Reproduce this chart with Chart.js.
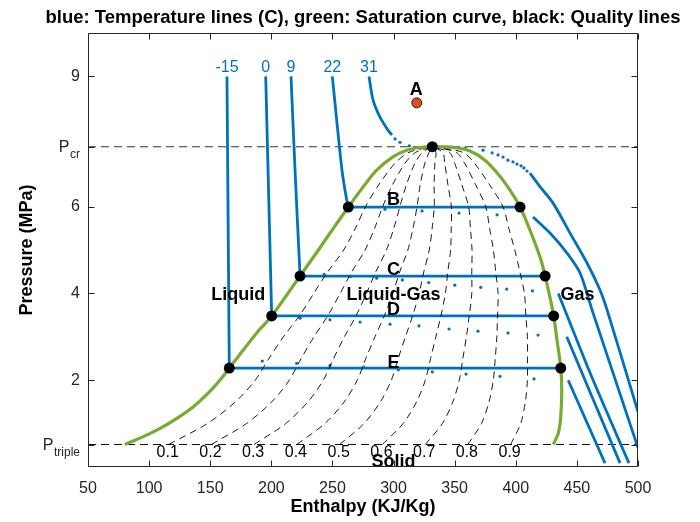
<!DOCTYPE html>
<html>
<head>
<meta charset="utf-8">
<title>CO2 P-h diagram</title>
<script src="https://cdn.jsdelivr.net/npm/chart.js@4.4.1/dist/chart.umd.min.js"></script>
<style>
  html, body { margin: 0; padding: 0; background: #fff; }
  #wrap { width: 700px; height: 522px; }
</style>
</head>
<body>
<div id="wrap"><canvas id="phChart" width="700" height="522"></canvas></div>
<script>
"use strict";

// ---- data (h in kJ/kg, P in MPa) ----
var P_CR = 7.38, P_TRIPLE = 0.518;

// saturation curve: liquid side up to the critical point, then vapour side down
var satH = [80.3, 95.2, 109.0, 122.7, 136.2, 148.3, 159.1, 165.6, 177.2, 189.0, 200.3, 223.5, 236.5, 247.8, 263.0, 275.3, 286.2, 299.8, 310.8, 321.6, 331.7,
            350.3, 362.5, 374.8, 385.5, 395.3, 403.5, 410.0, 415.7, 420.6, 424.0, 427.2, 431.0, 433.7, 436.8, 437.6, 436.8, 434.8, 430.7];
var satP = [0.52, 0.70, 0.89, 1.12, 1.39, 1.70, 2.04, 2.28, 2.70, 3.12, 3.48, 4.40, 4.92, 5.38, 5.99, 6.46, 6.84, 7.15, 7.30, 7.36, 7.38,
            7.36, 7.28, 7.07, 6.75, 6.38, 5.99, 5.57, 5.16, 4.77, 4.40, 4.01, 3.48, 2.93, 2.28, 1.77, 1.16, 0.78, 0.52];

// quality lines, enthalpy at each pressure level
var qualP = [0.52, 1.0, 1.5, 2.0, 2.5, 3.0, 3.5, 4.0, 4.5, 5.0, 5.5, 6.0, 6.5, 7.0, 7.25, 7.38];
var qualLabels = ['0.1', '0.2', '0.3', '0.4', '0.5', '0.6', '0.7', '0.8', '0.9'];
var q1 = [116.0, 147.6, 170.6, 186.8, 198.0, 209.9, 223.4, 234.7, 246.2, 259.2, 268.8, 277.1, 287.8, 301.3, 312.6, 331.7];
var q2 = [151.0, 179.6, 200.3, 214.7, 224.4, 234.9, 246.5, 256.3, 265.9, 276.7, 284.5, 291.1, 299.1, 309.4, 318.1, 331.7];
var q3 = [185.9, 211.7, 229.9, 242.5, 250.9, 259.8, 269.6, 277.8, 285.5, 294.2, 300.2, 305.2, 310.5, 317.5, 323.6, 331.7];
var q4 = [220.9, 243.7, 259.6, 270.3, 277.3, 284.8, 292.7, 299.4, 305.1, 311.7, 315.9, 319.2, 321.8, 325.6, 329.1, 331.7];
var q5 = [255.9, 275.8, 289.2, 298.2, 303.8, 309.7, 315.8, 320.9, 324.8, 329.2, 331.6, 333.3, 333.2, 333.8, 334.7, 331.7];
var q6 = [290.9, 307.8, 318.8, 326.0, 330.3, 334.6, 338.9, 342.4, 344.4, 346.7, 347.2, 347.3, 344.5, 341.9, 340.2, 331.7];
var q7 = [325.9, 339.9, 348.5, 353.8, 356.7, 359.6, 362.0, 364.0, 364.0, 364.2, 362.9, 361.4, 355.9, 350.0, 345.7, 331.7];
var q8 = [360.8, 371.9, 378.1, 381.6, 383.2, 384.5, 385.1, 385.5, 383.6, 381.7, 378.6, 375.4, 367.2, 358.1, 351.2, 331.7];
var q9 = [395.8, 404.0, 407.8, 409.5, 409.6, 409.5, 408.2, 407.1, 403.3, 399.2, 394.3, 389.5, 378.6, 366.2, 356.7, 331.7];
var qualH = [q1, q2, q3, q4, q5, q6, q7, q8, q9];

// isotherms (blue), labels and pieces
var tempLabels = ['-15', '0', '9', '22', '31'];
var tm15LiqH = [163.7, 165.6],               tm15LiqP = [9.0, 2.28];
var tm15MixH = [165.6, 436.8],               tm15MixP = [2.28, 2.28];
var tm15GasH = [442.9, 458.0, 473.0],        tm15GasP = [2.0, 1.04, 0.09];
var t0LiqH = [195.4, 200.3],                 t0LiqP = [9.0, 3.48];
var t0MixH = [200.3, 431.0],                 t0MixP = [3.48, 3.48];
var t0GasH = [441.7, 485.3],                 t0GasP = [3.0, 0.09];
var t9LiqH = [216.1, 219.4, 223.5],          t9LiqP = [9.0, 6.84, 4.40];
var t9MixH = [223.5, 424.0],                 t9MixP = [4.40, 4.40];
var t9GasH = [434.8, 463.0, 492.6],          t9GasP = [4.0, 2.02, 0.09];
var t22LiqH = [249.9, 257.8, 261.7, 263.0],  t22LiqP = [9.0, 6.84, 6.15, 5.99];
var t22MixH = [263.0, 403.5],                t22MixP = [5.99, 5.99];
var t22GasH = [414.1, 428.0, 441.9, 452.6, 462.4, 500.0];
var t22GasP = [5.76, 5.39, 4.93, 4.47, 3.62, 0.44];
var t31LeftH = [279.9, 283.2, 288.9, 295.5, 298.7];
var t31LeftP = [9.0, 8.46, 8.06, 7.76, 7.65];
var t31RightH = [411.6, 419.8, 430.5, 444.4, 458.3, 468.9, 474.7, 500.0];
var t31RightP = [6.77, 6.46, 6.08, 5.39, 4.70, 4.08, 3.62, 1.27];
// sparse dots of the isotherm data
var t31DotH = [301.2, 305.3, 312.9, 358.5, 373.2, 380.6, 385.5, 389.6, 393.6, 397.7, 401.0, 404.3, 406.7, 409.2];
var t31DotP = [7.56, 7.48, 7.40, 7.34, 7.30, 7.24, 7.19, 7.14, 7.07, 7.03, 6.98, 6.94, 6.89, 6.82];
var dotBH = [293.0, 323.3, 353.6, 384.7], dotBP = [5.94, 5.90, 5.85, 5.81];
var dotCH = [243.3, 264.8, 286.2, 307.2, 328.8, 350.1, 371.3, 392.6, 413.6];
var dotCP = [4.44, 4.39, 4.35, 4.31, 4.25, 4.19, 4.14, 4.10, 4.06];
var dotDH = [223.5, 248.0, 272.6, 297.1, 320.8, 345.4, 369.1, 393.6, 418.2];
var dotDP = [3.43, 3.39, 3.34, 3.29, 3.25, 3.18, 3.13, 3.09, 3.04];
var dotEH = [192.6, 220.7, 248.0, 275.3, 303.9, 331.7, 359.3, 387.1, 414.9];
var dotEP = [2.44, 2.39, 2.34, 2.30, 2.24, 2.19, 2.14, 2.09, 2.03];

// state points
var markH = [331.7, 263.0, 403.5, 223.5, 424.0, 200.3, 431.0, 165.6, 436.8];
var markP = [P_CR, 5.99, 5.99, 4.40, 4.40, 3.48, 3.48, 2.28, 2.28];
var pointAH = [319.0], pointAP = [8.39];

// text annotations
var stateNames = ['A', 'B', 'C', 'D', 'E'];
var stateTextH = [318.5, 300, 300, 300, 300];
var stateTextP = [8.73, 6.19, 4.58, 3.64, 2.44];
var regionNames = ['Liquid', 'Liquid-Gas', 'Gas', 'Solid'];
var regionTextH = [173, 300, 450.5, 300];
var regionTextP = [4.0, 4.0, 4.0, 0.16];

var xTickStep = 50;
var yTickValues = [P_TRIPLE, 2, 4, 6, P_CR, 9];

// ---- styling ----
var BLUE = '#0072BD', GREEN = '#77AC30', ORANGE = '#D95319', AXIS = '#262626';
var FONT = "'Liberation Sans', Arial, Helvetica, sans-serif";
Chart.defaults.font.family = FONT;
Chart.defaults.color = AXIS;

function pts(hs, ps) {
    return hs.map(function (h, i) { return { x: h, y: ps[i] }; });
}

function lineSet(hs, ps, color, width, dash, order, tension) {
    return {
        data: pts(hs, ps), showLine: true, borderColor: color, borderWidth: width,
        borderDash: dash || [], pointRadius: 0, fill: false, tension: tension || 0,
        borderCapStyle: 'butt', order: order
    };
}

function dotSet(hs, ps, color, radius, order) {
    return {
        data: pts(hs, ps), showLine: false, pointRadius: radius, pointBackgroundColor: color,
        pointBorderWidth: 0, order: order
    };
}

var datasets = [];
datasets.push(dotSet(markH, markP, '#000', 5.5, 0));
datasets.push({ data: pts(pointAH, pointAP), showLine: false, pointRadius: 5, pointBackgroundColor: ORANGE,
                pointBorderColor: '#000', pointBorderWidth: 0.8, order: 0 });
datasets.push(lineSet(satH, satP, GREEN, 3.2, null, 2, 0.35));
qualH.forEach(function (q) {
    datasets.push(lineSet(q, qualP, '#000', 0.9, [7, 5], 3, 0.3));
});
[
    [tm15LiqH, tm15LiqP], [tm15MixH, tm15MixP], [tm15GasH, tm15GasP],
    [t0LiqH, t0LiqP], [t0MixH, t0MixP], [t0GasH, t0GasP],
    [t9LiqH, t9LiqP], [t9MixH, t9MixP], [t9GasH, t9GasP],
    [t22LiqH, t22LiqP], [t22MixH, t22MixP], [t22GasH, t22GasP],
    [t31LeftH, t31LeftP], [t31RightH, t31RightP]
].forEach(function (p) {
    datasets.push(lineSet(p[0], p[1], BLUE, 2.8, null, 4, 0.3));
});
[[t31DotH, t31DotP], [dotBH, dotBP], [dotCH, dotCP], [dotDH, dotDP], [dotEH, dotEP]].forEach(function (p) {
    datasets.push(dotSet(p[0], p[1], BLUE, 1.6, 4));
});
datasets.push(lineSet([50, 500], [P_CR, P_CR], '#333', 1.1, [8, 5], 5));
datasets.push(lineSet([50, 500], [P_TRIPLE, P_TRIPLE], '#111', 1.1, [8, 5], 5));

function text(ctx, str, x, y, size, weight, color, align) {
    ctx.font = (weight || 'normal') + ' ' + size + 'px ' + FONT;
    ctx.fillStyle = color;
    ctx.textAlign = align || 'center';
    ctx.textBaseline = 'alphabetic';
    // y is the centre of the capitals
    ctx.fillText(str, x, y + size * 0.358);
}

var annotations = {
    id: 'annotations',
    afterDatasetsDraw: function (chart) {
        var ctx = chart.ctx, xs = chart.scales.x, ys = chart.scales.y;
        ctx.save();
        // temperature labels above each isotherm
        var tops = [tm15LiqH[0], t0LiqH[0], t9LiqH[0], t22LiqH[0], t31LeftH[0]];
        tempLabels.forEach(function (t, i) {
            text(ctx, t, xs.getPixelForValue(tops[i]), ys.getPixelForValue(9.0) - 10.5, 16, 'normal', BLUE);
        });
        // quality labels under the triple line
        qualLabels.forEach(function (t, i) {
            text(ctx, t, xs.getPixelForValue(qualH[i][0]) - 1, ys.getPixelForValue(P_TRIPLE) + 6.7, 16, 'normal', '#000');
        });
        stateNames.forEach(function (t, i) {
            text(ctx, t, xs.getPixelForValue(stateTextH[i]), ys.getPixelForValue(stateTextP[i]), 18, 'bold', '#000');
        });
        regionNames.forEach(function (t, i) {
            text(ctx, t, xs.getPixelForValue(regionTextH[i]), ys.getPixelForValue(regionTextP[i]), 18, 'bold', '#000');
        });
        ctx.restore();
    },
    afterDraw: function (chart) {
        var ctx = chart.ctx, xs = chart.scales.x, ys = chart.scales.y, a = chart.chartArea;
        var L = Math.round(a.left) + 0.5, R = Math.round(a.right) - 0.5;
        var T = Math.round(a.top) + 0.5, B = Math.round(a.bottom) - 0.5;
        ctx.save();
        ctx.strokeStyle = AXIS;
        ctx.lineWidth = 1;
        ctx.beginPath();
        ctx.rect(L, T, R - L, B - T);
        for (var v = xs.min; v <= xs.max; v += xTickStep) {
            var px = Math.round(xs.getPixelForValue(v)) + 0.5;
            ctx.moveTo(px, B); ctx.lineTo(px, B - 6);
            ctx.moveTo(px, T); ctx.lineTo(px, T + 6);
        }
        yTickValues.forEach(function (p) {
            var py = Math.round(ys.getPixelForValue(p)) + 0.5;
            ctx.moveTo(L, py); ctx.lineTo(L + 6, py);
            ctx.moveTo(R, py); ctx.lineTo(R - 6, py);
        });
        ctx.stroke();

        // P_cr and P_triple tick labels with subscripts
        [[P_CR, 'cr'], [P_TRIPLE, 'triple']].forEach(function (s) {
            var py = ys.getPixelForValue(s[0]);
            var right = a.left - 8;
            ctx.fillStyle = AXIS;
            ctx.textBaseline = 'alphabetic';
            ctx.textAlign = 'right';
            ctx.font = '12px ' + FONT;
            ctx.fillText(s[1], right, py + 11);
            var w = ctx.measureText(s[1]).width;
            ctx.font = '16px ' + FONT;
            ctx.fillText('P', right - w - 0.5, py + 5.5);
        });

        // title over the axes
        ctx.fillStyle = '#000';
        ctx.textAlign = 'center';
        ctx.font = 'bold 18.5px ' + FONT;
        ctx.fillText('blue: Temperature lines (C), green: Saturation curve, black: Quality lines', (a.left + a.right) / 2, 23);
        ctx.restore();
    }
};

var ctx = document.getElementById('phChart').getContext('2d');
new Chart(ctx, {
    type: 'scatter',
    data: { datasets: datasets },
    options: {
        responsive: false,
        animation: false,
        layout: { padding: { left: 0, right: 62, top: 33, bottom: 0 } },
        plugins: { legend: { display: false }, tooltip: { enabled: false }, title: { display: false } },
        scales: {
            x: {
                type: 'linear', min: 50, max: 500,
                grid: { display: false, drawTicks: false },
                border: { display: false },
                ticks: { stepSize: xTickStep, padding: 12, color: AXIS, font: { size: 16 } },
                title: { display: true, text: 'Enthalpy (KJ/Kg)', color: '#000',
                         font: { size: 18, weight: 'bold' }, padding: { top: 0, bottom: 4 } },
                afterFit: function (s) { s.height = 55; }
            },
            y: {
                type: 'linear', min: 0, max: 10,
                grid: { display: false, drawTicks: false },
                border: { display: false },
                afterBuildTicks: function (s) {
                    s.ticks = yTickValues.map(function (v) { return { value: v }; });
                },
                ticks: {
                    padding: 8, color: AXIS, font: { size: 16 },
                    callback: function (v) { return (v === P_CR || v === P_TRIPLE) ? '' : String(v); }
                },
                title: { display: true, text: 'Pressure (MPa)', color: '#000',
                         font: { size: 18, weight: 'bold' }, padding: { top: 16, bottom: 0 } },
                afterFit: function (s) { s.width = 88; }
            }
        }
    },
    plugins: [annotations]
});
</script>
</body>
</html>
